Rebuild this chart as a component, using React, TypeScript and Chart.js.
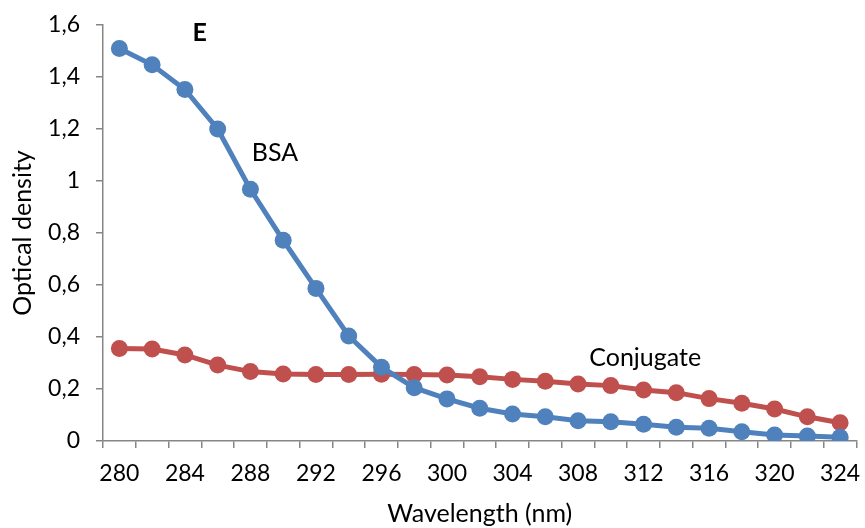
import React, { useEffect, useRef } from "react";
import { Chart, registerables } from "chart.js";

Chart.register(...registerables);

const wavelengths = [280, 282, 284, 286, 288, 290, 292, 294, 296, 298, 300, 302, 304, 306, 308, 310, 312, 314, 316, 318, 320, 322, 324];
const bsaValues = [1.51, 1.447, 1.352, 1.2, 0.968, 0.772, 0.587, 0.404, 0.284, 0.205, 0.162, 0.126, 0.104, 0.093, 0.078, 0.074, 0.064, 0.053, 0.049, 0.036, 0.023, 0.019, 0.014];
const conjugateValues = [0.356, 0.354, 0.331, 0.292, 0.267, 0.258, 0.256, 0.256, 0.257, 0.256, 0.254, 0.247, 0.237, 0.23, 0.219, 0.213, 0.196, 0.186, 0.163, 0.145, 0.123, 0.093, 0.07];
const yTicks = [0, 0.2, 0.4, 0.6, 0.8, 1, 1.2, 1.4, 1.6];

const annotationTexts = ["E", "BSA", "Conjugate"];
const annotationWavelengths = [284.9, 289.5, 312.1];
const annotationValues = [1.569, 1.108, 0.319];
const annotationBold = [true, false, false];

const FONT = "Lato, 'Open Sans', sans-serif";
const BLUE = "#4F81BD";
const RED = "#C0504D";
const AXIS = "#868686";

const annotationPlugin = {
  id: "textAnnotations",
  afterDatasetsDraw(chart: any) {
    const { ctx, scales } = chart;
    ctx.save();
    ctx.fillStyle = "#000";
    ctx.textAlign = "center";
    ctx.textBaseline = "middle";
    annotationTexts.forEach((t, i) => {
      const idx = (annotationWavelengths[i] - wavelengths[0]) / (wavelengths[1] - wavelengths[0]);
      const x = scales.x.getPixelForValue(idx);
      const y = scales.y.getPixelForValue(annotationValues[i]);
      ctx.font = `${annotationBold[i] ? "bold " : ""}25px ${FONT}`;
      ctx.fillText(t, x, y);
    });
    ctx.restore();
  },
};

export default function App() {
  const ref = useRef<HTMLCanvasElement>(null);
  useEffect(() => {
    if (!ref.current) return;
    const chart = new Chart(ref.current, {
      type: "line",
      data: {
        labels: wavelengths.map(String),
        datasets: [
          {
            label: "BSA",
            data: bsaValues,
            borderColor: BLUE,
            backgroundColor: BLUE,
            borderWidth: 5,
            pointRadius: 8.5,
            pointBorderWidth: 0,
            pointBackgroundColor: BLUE,
            tension: 0,
          },
          {
            label: "Conjugate",
            data: conjugateValues,
            borderColor: RED,
            backgroundColor: RED,
            borderWidth: 5,
            pointRadius: 8.5,
            pointBorderWidth: 0,
            pointBackgroundColor: RED,
            tension: 0,
          },
        ],
      },
      options: {
        responsive: false,
        animation: false,
        layout: { padding: { left: 0, right: 6, top: 25, bottom: 0 } },
        plugins: { legend: { display: false }, tooltip: { enabled: false } },
        scales: {
          x: {
            type: "category",
            offset: true,
            grid: {
              offset: true,
              drawOnChartArea: false,
              drawTicks: true,
              tickLength: 7,
              color: AXIS,
              lineWidth: 1.5,
            },
            border: { color: AXIS, width: 1.5 },
            ticks: {
              autoSkip: false,
              maxRotation: 0,
              padding: 12,
              color: "#000",
              font: { family: FONT, size: 23 },
              callback: (_v: any, i: number) => (i % 2 === 0 ? String(wavelengths[i]) : ""),
            },
            title: {
              display: true,
              text: "Wavelength (nm)",
              color: "#000",
              font: { family: FONT, size: 25, lineHeight: 1 },
              padding: { top: 0, bottom: 1.5 },
            },
            afterFit: (s: any) => {
              s.height = 87;
              s.paddingLeft = 0;
              s.paddingRight = 0;
            },
          },
          y: {
            min: 0,
            max: 1.6,
            afterBuildTicks: (s: any) => {
              s.ticks = yTicks.map((v) => ({ value: v }));
            },
            grid: {
              drawOnChartArea: false,
              drawTicks: true,
              tickLength: 7,
              color: AXIS,
              lineWidth: 1.5,
            },
            border: { color: AXIS, width: 1.5 },
            ticks: {
              padding: 16,
              color: "#000",
              font: { family: FONT, size: 23 },
              callback: (v: any) => String(Number(Number(v).toFixed(1))).replace(".", ","),
            },
            title: {
              display: true,
              text: "Optical density",
              color: "#000",
              font: { family: FONT, size: 25, lineHeight: 1 },
              padding: { top: 10.5, bottom: 0 },
            },
            afterFit: (s: any) => {
              s.width = 103;
              s.paddingTop = 0;
              s.paddingBottom = 0;
            },
          },
        },
      },
      plugins: [annotationPlugin],
    });
    return () => chart.destroy();
  }, []);
  return (
    <div style={{ position: "fixed", left: 0, top: 0, width: 865, height: 528, background: "#fff" }}>
      <canvas ref={ref} width={865} height={528} />
    </div>
  );
}
